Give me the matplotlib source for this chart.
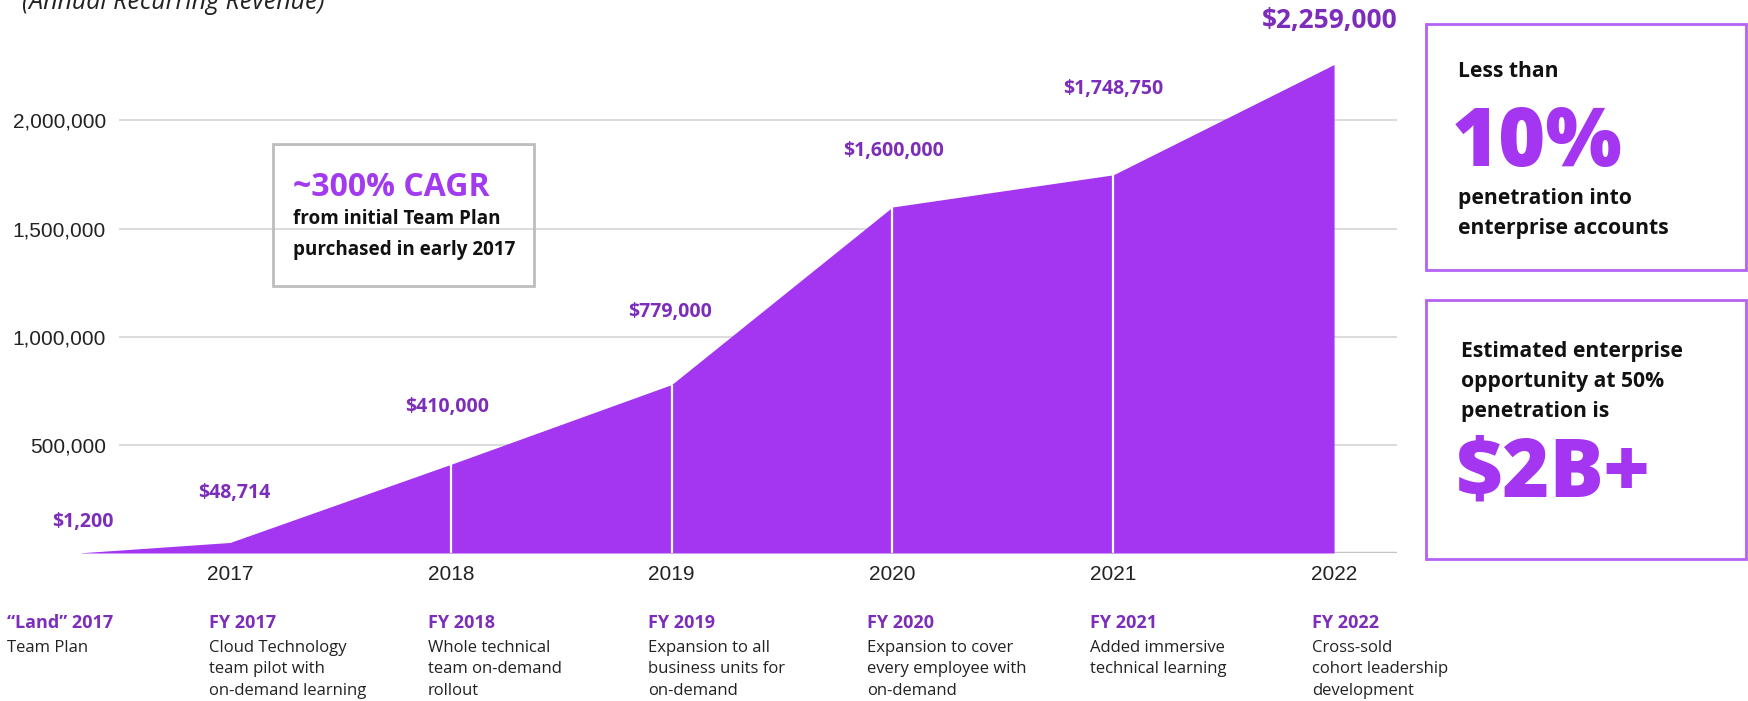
import matplotlib
matplotlib.use("Agg")
import matplotlib.pyplot as plt
from matplotlib.patches import Rectangle

# ---- data -------------------------------------------------------------
years = [2017, 2018, 2019, 2020, 2021, 2022]
land_x = 2016.325                    # initial Team Plan purchase, early 2017
land_value = 1200
arr_values = [48714, 410000, 779000, 1600000, 1748750, 2259000]
value_labels = ["$48,714", "$410,000", "$779,000", "$1,600,000",
                "$1,748,750", "$2,259,000"]
land_label = "$1,200"

ytick_values = [500000, 1000000, 1500000, 2000000]
ytick_labels = ["500,000", "1,000,000", "1,500,000", "2,000,000"]

milestone_titles = ["\u201cLand\u201d 2017", "FY 2017", "FY 2018", "FY 2019",
                    "FY 2020", "FY 2021", "FY 2022"]
milestone_texts = [
    "Team Plan",
    "Cloud Technology\nteam pilot with\non-demand learning",
    "Whole technical\nteam on-demand\nrollout",
    "Expansion to all\nbusiness units for\non-demand",
    "Expansion to cover\nevery employee with\non-demand",
    "Added immersive\ntechnical learning",
    "Cross-sold\ncohort leadership\ndevelopment",
]

# ---- style ------------------------------------------------------------
W, H = 1749, 701
FILL = "#A435F0"
LABEL_PURPLE = "#7C2DBA"
BOX_PURPLE = "#B561F2"
BODY = "Open Sans"
AXFONT = "Liberation Sans"

fig = plt.figure(figsize=(W / 100, H / 100), dpi=100)


def fx(px):
    return px / W


def fy(py):
    return 1 - py / H


ax = fig.add_axes([fx(119), fy(553), fx(1397) - fx(119), 553 / H])
ax.set_xlim(2016.497, 2022.285)
ax.set_ylim(0, 2.5572e6)

xs = [land_x] + years
vals = [land_value] + arr_values
ax.fill_between(xs, vals, 0, color=FILL, lw=0, zorder=2, clip_on=False)
ax.vlines(years[1:-1], 0, arr_values[1:-1], color="white", lw=1.6, zorder=3)

ax.set_axisbelow(True)
ax.set_yticks(ytick_values, ytick_labels, fontfamily=AXFONT, fontsize=15,
              color="#222222")
ax.yaxis.grid(True, color="#dcdcdc", lw=1.5)
ax.set_xticks(years, [str(y) for y in years], fontfamily=AXFONT, fontsize=15,
              color="#222222")
ax.tick_params(length=0)
ax.tick_params(axis="y", pad=9.4)
ax.tick_params(axis="x", pad=9)
for s in ax.spines.values():
    s.set_visible(False)
ax.axhline(0, color="#c4c4c4", lw=2.5, zorder=1)

# value labels above each point (offsets in points)
lift = [(1, 22), (3, 35.5), (-3, 41.5), (-1, 52.5), (1, 40.5), (0, 61.5),
        (-3, 32)]
all_labels = [land_label] + value_labels
for i, (x, v, t) in enumerate(zip(xs, vals, all_labels)):
    dx, dy = lift[i]
    size = 19 if i == len(xs) - 1 else 14
    ax.annotate(t, (x, v), xytext=(dx, dy), textcoords="offset points",
                ha="center", va="center", fontsize=size, fontweight="bold",
                fontfamily=BODY, color=LABEL_PURPLE, annotation_clip=False)

# chart subtitle (partly above the canvas)
fig.text(fx(22), fy(9), "(Annual Recurring Revenue)", fontsize=18,
         fontstyle="italic", fontfamily=BODY, color="#222222", va="baseline")

# CAGR call-out
fig.patches.append(Rectangle((fx(273), fy(286)), fx(534) - fx(273),
                             fy(144) - fy(286), transform=fig.transFigure,
                             fill=False, ec="#bdbdbd", lw=2))
fig.text(fx(293), fy(187), "~300% CAGR", fontsize=23, fontweight="bold",
         fontfamily=BODY, color="#A23BEF", va="center")
fig.text(fx(293), fy(219.5), "from initial Team Plan", fontsize=13.6,
         fontweight="bold", fontfamily=BODY, color="#111111", va="center")
fig.text(fx(293), fy(250.5), "purchased in early 2017", fontsize=13.6,
         fontweight="bold", fontfamily=BODY, color="#111111", va="center")

# right-hand info boxes
for top, bot in [(24, 270), (300, 559)]:
    fig.patches.append(Rectangle((fx(1426), fy(bot)), fx(1746) - fx(1426),
                                 fy(top) - fy(bot), transform=fig.transFigure,
                                 fill=False, ec=BOX_PURPLE, lw=2))
fig.text(fx(1458), fy(71.5), "Less than", fontsize=15.2, fontweight="bold",
         fontfamily=BODY, color="#111111", va="center")
fig.text(fx(1452), fy(145), "10%", fontsize=58, fontweight="heavy",
         fontfamily=BODY, color=FILL, va="center")
fig.text(fx(1458), fy(198.5), "penetration into", fontsize=15.2,
         fontweight="bold", fontfamily=BODY, color="#111111", va="center")
fig.text(fx(1458), fy(228.5), "enterprise accounts", fontsize=15.2,
         fontweight="bold", fontfamily=BODY, color="#111111", va="center")
for line, py in zip(["Estimated enterprise", "opportunity at 50%",
                     "penetration is"], [351.5, 381.5, 411.5]):
    fig.text(fx(1461), fy(py), line, fontsize=15.2, fontweight="bold",
             fontfamily=BODY, color="#111111", va="center")
fig.text(fx(1456), fy(475.5), "$2B+", fontsize=58, fontweight="heavy",
         fontfamily=BODY, color=FILL, va="center")

# milestone notes under the axis
note_x = [7, 209, 428, 648, 867, 1090, 1312]
for x, title, body in zip(note_x, milestone_titles, milestone_texts):
    fig.text(fx(x), fy(623), title, fontsize=13, fontweight="bold",
             fontfamily=BODY, color=LABEL_PURPLE, va="center")
    fig.text(fx(x), fy(640), body, fontsize=12, fontfamily=BODY,
             color="#222222", va="top", linespacing=1.45)

fig.savefig("out.png", dpi=100)
